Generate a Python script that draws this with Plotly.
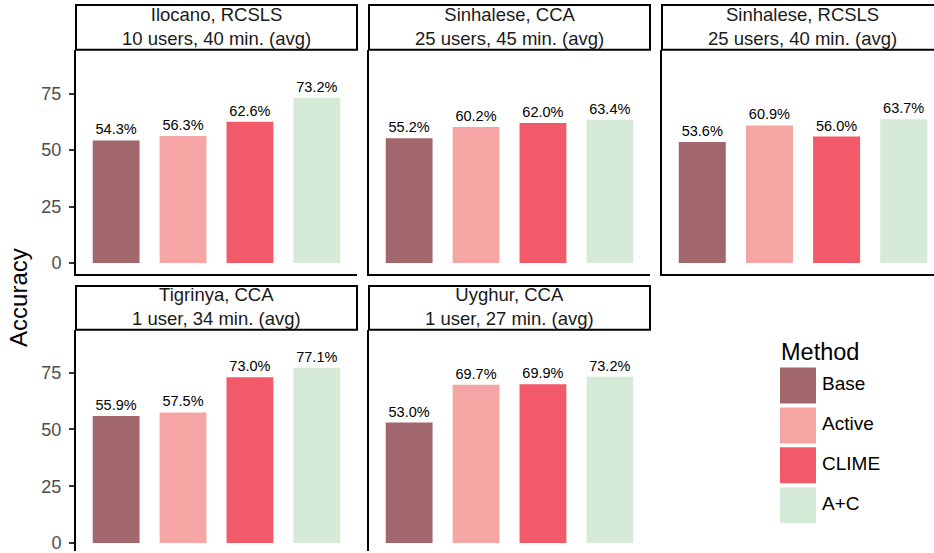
import plotly.graph_objects as go

methods = ["Base", "Active", "CLIME", "A+C"]
colors = ["#A1676C", "#F5A5A3", "#F35A69", "#D5EBD8"]

panel_titles = [
    "Ilocano, RCSLS<br>10 users, 40 min. (avg)",
    "Sinhalese, CCA<br>25 users, 45 min. (avg)",
    "Sinhalese, RCSLS<br>25 users, 40 min. (avg)",
    "Tigrinya, CCA<br>1 user, 34 min. (avg)",
    "Uyghur, CCA<br>1 user, 27 min. (avg)",
]
ilocano_rcsls = [54.3, 56.3, 62.6, 73.2]
sinhalese_cca = [55.2, 60.2, 62.0, 63.4]
sinhalese_rcsls = [53.6, 60.9, 56.0, 63.7]
tigrinya_cca = [55.9, 57.5, 73.0, 77.1]
uyghur_cca = [53.0, 69.7, 69.9, 73.2]
panel_values = [ilocano_rcsls, sinhalese_cca, sinhalese_rcsls, tigrinya_cca, uyghur_cca]
y_ticks = [0, 25, 50, 75]

W, H = 934, 553
FONT = "Liberation Sans, Arial, Helvetica, sans-serif"

def px_x(p):
    return p / W

def px_y(p):
    return 1 - p / H

# panel geometry in pixels: (left, right, top, bottom)
panels = [
    (76, 357, 50, 275),
    (369, 650, 50, 275),
    (662, 934, 50, 275),
    (76, 357, 331, 553),
    (369, 650, 331, 553),
]
strips = [
    (76, 357, 5, 50),
    (369, 650, 5, 50),
    (662, 945, 5, 50),
    (76, 357, 287, 331),
    (369, 650, 287, 331),
]
strip_text_y = [26.5, 26.5, 26.5, 308, 308]
x_ranges = [[0.4, 4.6], [0.4, 4.6], [0.4, 4.6 - 10 / 67.0], [0.4, 4.6], [0.4, 4.6]]
y_ranges = [[-4.85, 94.4]] * 3 + [[-3.51, 93.86]] * 2

fig = go.Figure()
layout = dict(
    width=W, height=H,
    margin=dict(l=0, r=0, t=0, b=0),
    paper_bgcolor="white", plot_bgcolor="white",
    font=dict(family=FONT),
    showlegend=False,
    bargap=0.3,
)
shapes = []
annotations = []

xs = [1, 2, 3, 4]
for i, vals in enumerate(panel_values):
    k = "" if i == 0 else str(i + 1)
    l, r, t, b = panels[i]
    fig.add_trace(go.Bar(
        x=xs, y=vals, width=0.7,
        marker=dict(color=colors, line=dict(width=0)),
        texttemplate="%{y:.1f}%", textposition="outside",
        textfont=dict(size=14.5, color="black", family=FONT),
        constraintext="none", cliponaxis=False,
        xaxis="x" + k, yaxis="y" + k, hoverinfo="skip",
    ))
    first_col = i in (0, 3)
    top_row = i < 3
    layout["xaxis" + k] = dict(
        domain=[px_x(l), px_x(r)], range=x_ranges[i], anchor="y" + k,
        showgrid=False, zeroline=False, showticklabels=False, ticks="",
        showline=top_row, linecolor="black", linewidth=2,
        fixedrange=True,
    )
    layout["yaxis" + k] = dict(
        domain=[px_y(b), px_y(t)], range=y_ranges[i], anchor="x" + k,
        showgrid=False, zeroline=False,
        showline=True, linecolor="black", linewidth=2,
        tickvals=y_ticks, ticktext=[str(v) for v in y_ticks],
        showticklabels=first_col, ticks="outside" if first_col else "",
        ticklen=5, tickwidth=1.5, tickcolor="#333333",
        tickfont=dict(size=18, color="#4D4D4D", family=FONT),
        ticklabelstandoff=4, ticklabeloverflow="allow",
        fixedrange=True,
    )
    sl, sr, st, sb = strips[i]
    shapes.append(dict(
        type="rect", xref="paper", yref="paper",
        x0=px_x(sl), x1=px_x(sr), y0=px_y(sb), y1=px_y(st),
        line=dict(color="black", width=2), fillcolor="white", layer="above",
    ))
    cx = (l + (r if i != 2 else 943)) / 2
    annotations.append(dict(
        xref="paper", yref="paper",
        x=px_x(cx), y=px_y(strip_text_y[i]),
        text=panel_titles[i], showarrow=False,
        xanchor="center", yanchor="middle",
        font=dict(size=18.5, color="#1A1A1A", family=FONT),
    ))

# legend built as a hidden subplot
lk = "6"
fig.add_trace(go.Scatter(
    x=[18] * len(methods), y=list(range(len(methods))), mode="markers",
    marker=dict(symbol="square", size=36, color=colors, line=dict(width=0)),
    xaxis="x" + lk, yaxis="y" + lk, hoverinfo="skip", cliponaxis=False,
))
fig.add_trace(go.Scatter(
    x=[42] * len(methods), y=list(range(len(methods))), mode="text",
    text=methods, textposition="middle right",
    textfont=dict(size=19, color="black", family=FONT),
    xaxis="x" + lk, yaxis="y" + lk, hoverinfo="skip", cliponaxis=False,
))
layout["xaxis" + lk] = dict(domain=[px_x(780), px_x(900)], range=[0, 120], visible=False,
                            anchor="y" + lk, fixedrange=True)
layout["yaxis" + lk] = dict(domain=[px_y(527), px_y(367)], range=[3.5, -0.5], visible=False,
                            anchor="x" + lk, fixedrange=True)
annotations.append(dict(
    xref="paper", yref="paper", x=px_x(779), y=px_y(353),
    text="Method", showarrow=False, xanchor="left", yanchor="middle",
    font=dict(size=23.5, color="black", family=FONT),
))
annotations.append(dict(
    xref="paper", yref="paper", x=px_x(19), y=px_y(299),
    text="Accuracy", showarrow=False, textangle=-90,
    xanchor="center", yanchor="middle",
    font=dict(size=24, color="black", family=FONT),
))

layout["shapes"] = shapes
layout["annotations"] = annotations
fig.update_layout(**layout)
fig.write_html(
    "out.html",
    config={"displayModeBar": False},
    post_script="document.body.style.margin='0';document.body.style.padding='0';",
)
